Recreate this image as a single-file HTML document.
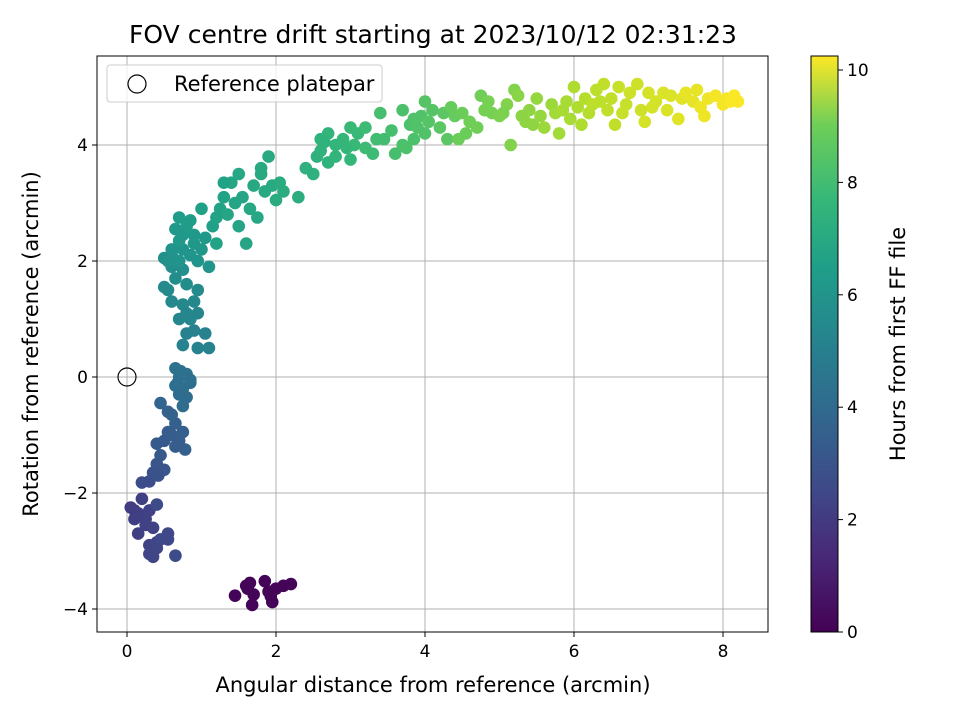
<!DOCTYPE html>
<html><head><meta charset="utf-8"><style>
body{margin:0;background:#fff;}
svg text{font-family:"DejaVu Sans","Liberation Sans",sans-serif;fill:#000;}
</style></head><body>
<svg id="chart" width="960" height="720" xmlns="http://www.w3.org/2000/svg">
<defs><linearGradient id="vir" x1="0" y1="1" x2="0" y2="0">
<stop offset="0" stop-color="#440154"/><stop offset="0.13" stop-color="#482878"/><stop offset="0.25" stop-color="#3e4a89"/><stop offset="0.38" stop-color="#31688e"/><stop offset="0.5" stop-color="#26828e"/><stop offset="0.63" stop-color="#1f9e89"/><stop offset="0.75" stop-color="#35b779"/><stop offset="0.88" stop-color="#6ece58"/><stop offset="1" stop-color="#fde725"/></linearGradient>
<clipPath id="pc"><rect x="97" y="56" width="671" height="576"/></clipPath></defs>
<rect x="0" y="0" width="960" height="720" fill="#fff"/>
<g id="grid"></g>
<g id="points" clip-path="url(#pc)"></g>
<rect x="97" y="56" width="671" height="576" fill="none" stroke="#000" stroke-width="1"/>
<g id="ticks"></g>
<text x="433" y="43" font-size="25" text-anchor="middle">FOV centre drift starting at 2023/10/12 02:31:23</text>
<text x="433" y="692" font-size="21" text-anchor="middle">Angular distance from reference (arcmin)</text>
<text x="38" y="344" font-size="21" text-anchor="middle" transform="rotate(-90 38 344)">Rotation from reference (arcmin)</text>
<g>
<rect x="107" y="65" width="275" height="37" rx="3" fill="#fff" fill-opacity="0.8" stroke="#ccc"/>
<circle cx="137" cy="84" r="9" fill="none" stroke="#000" stroke-width="1.2"/>
<text x="174" y="91" font-size="21">Reference platepar</text>
</g>
<rect x="811" y="56" width="27" height="576" fill="url(#vir)" stroke="#000" stroke-width="1"/>
<g id="cbticks"></g>
<text x="905" y="344" font-size="21" text-anchor="middle" transform="rotate(-90 905 344)">Hours from first FF file</text>
</svg>
<script>
const xTicks=[0,2,4,6,8];
const yTicks=[-4,-2,0,2,4];
const cbTicks=[0,2,4,6,8,10];
const xVals=[
1.45,1.6,1.65,1.7,1.68,1.85,1.9,1.95,2.0,2.1,2.2,1.62,1.93,
0.05,0.1,0.15,0.2,0.25,0.3,0.35,0.3,0.3,0.35,0.4,0.4,0.45,0.55,0.55,0.65,0.2,0.3,0.4,0.15,0.25,0.1,
0.35,0.4,0.45,0.4,0.5,0.55,0.6,0.65,0.7,0.75,0.78,0.65,0.45,0.55,0.6,0.5,0.42,
0.65,0.7,0.65,0.75,0.8,0.85,0.7,0.8,0.75,0.85,0.68,0.72,
0.75,0.8,0.9,0.95,1.05,1.1,0.85,0.95,0.7,0.6,0.55,0.75,0.9,0.95,0.5,0.65,0.8,0.75,0.6,0.5,0.85,0.8,
0.55,0.6,0.7,0.75,0.85,0.9,1.0,1.1,0.95,0.7,0.65,0.75,0.8,0.9,0.7,0.85,1.05,0.6,
1.0,1.15,1.2,1.25,1.3,1.35,1.4,1.45,1.5,1.55,1.6,1.65,1.7,1.75,1.8,1.85,1.9,1.95,2.0,2.05,2.1,1.5,1.3,1.2,1.8,2.3,
2.4,2.5,2.55,2.6,2.6,2.7,2.7,2.8,2.8,2.9,3.0,3.0,3.05,3.1,3.2,3.3,3.35,3.2,2.65,2.95,
3.45,3.55,3.6,3.7,3.7,3.8,3.85,3.9,3.95,4.0,4.0,4.05,4.1,4.2,4.25,3.4,3.75,4.3,3.85,
4.35,4.4,4.5,4.55,4.6,4.7,4.75,4.8,4.9,5.0,5.1,5.15,5.2,5.25,5.3,5.35,5.4,5.45,4.45,4.85,5.05,
5.5,5.55,5.6,5.7,5.75,5.8,5.9,5.95,6.0,6.05,6.1,6.15,6.2,6.3,6.35,6.4,6.45,5.85,6.25,
6.5,6.55,6.6,6.7,6.75,6.85,6.9,6.95,7.0,7.1,7.2,7.25,7.3,7.4,7.45,7.5,7.6,7.65,7.7,7.75,7.8,7.9,8.0,8.05,8.1,8.2,8.15,6.65,7.05];
const yVals=[
-3.77,-3.6,-3.55,-3.75,-3.93,-3.52,-3.7,-3.88,-3.65,-3.6,-3.57,-3.65,-3.78,
-2.25,-2.3,-2.7,-2.1,-2.45,-2.3,-2.6,-2.9,-3.05,-3.1,-2.85,-2.95,-2.8,-2.7,-2.8,-3.08,-1.82,-1.8,-2.2,-2.35,-2.55,-2.45,
-1.65,-1.5,-1.35,-1.15,-1.1,-0.95,-1.0,-0.8,-1.1,-0.95,-1.25,-1.2,-0.45,-0.6,-0.65,-1.6,-1.7,
0.15,0.0,-0.15,-0.2,0.05,-0.1,-0.3,-0.35,-0.5,-0.05,-0.1,0.1,
0.55,0.75,0.8,0.5,0.75,0.5,1.0,1.1,1.0,1.3,1.5,1.25,1.3,1.5,1.55,1.7,1.6,1.85,1.9,2.05,1.0,1.1,
2.0,2.1,2.0,2.2,2.1,2.3,2.2,1.9,2.0,2.35,2.55,2.45,2.6,2.45,2.75,2.7,2.4,2.2,
2.9,2.6,2.3,2.9,3.1,2.8,3.35,3.0,2.6,3.1,2.3,2.9,3.3,2.75,3.5,3.2,3.8,3.3,3.05,3.35,3.2,3.5,3.35,2.75,3.6,3.1,
3.6,3.5,3.8,3.9,4.1,3.7,4.2,4.0,3.8,4.1,3.75,4.3,4.0,4.2,3.95,3.85,4.1,4.3,4.05,3.95,
4.1,4.25,3.85,4.0,4.6,4.35,4.1,4.3,4.5,4.2,4.75,4.4,4.6,4.3,4.55,4.55,3.95,4.1,4.45,
4.65,4.5,4.55,4.2,4.4,4.3,4.85,4.6,4.55,4.5,4.7,4.0,4.95,4.85,4.5,4.4,4.6,4.35,4.1,4.75,4.55,
4.8,4.5,4.3,4.7,4.55,4.2,4.75,4.45,5.0,4.65,4.35,4.8,4.55,4.95,4.75,5.05,4.6,4.6,4.7,
4.8,4.35,5.0,4.7,4.9,5.05,4.6,4.4,4.9,4.75,4.9,4.6,4.85,4.45,4.8,4.9,4.75,4.95,4.65,4.5,4.8,4.85,4.7,4.8,4.75,4.75,4.85,4.55,4.65];
const hourVals=[
0.1,0.1,0.1,0.1,0.1,0.1,0.1,0.1,0.1,0.1,0.1,0.1,0.1,
1.8,1.8,1.9,1.9,2.0,2.0,2.0,2.0,2.1,2.1,2.1,2.1,2.2,2.2,2.2,2.3,2.4,2.4,2.3,1.9,2.0,1.9,
2.6,2.7,2.8,2.9,2.9,3.0,3.0,3.1,3.0,3.1,3.1,3.0,3.3,3.2,3.2,2.7,2.6,
3.8,3.8,3.7,3.7,3.8,3.7,3.6,3.6,3.6,3.7,3.7,3.8,
4.5,4.5,4.5,4.6,4.6,4.6,4.7,4.7,4.7,4.8,4.9,4.8,4.8,4.9,4.9,5.0,5.0,5.1,5.1,5.1,4.7,4.7,
5.2,5.2,5.3,5.3,5.3,5.4,5.4,5.3,5.3,5.5,5.5,5.5,5.6,5.5,5.6,5.6,5.5,5.3,
5.8,5.8,5.9,5.9,5.9,6.0,6.0,6.0,6.0,6.0,6.0,6.1,6.1,6.1,6.2,6.2,6.2,6.2,6.3,6.3,6.3,6.1,5.9,5.9,6.2,6.4,
6.5,6.5,6.5,6.6,6.6,6.6,6.7,6.7,6.7,6.8,6.8,6.9,6.9,6.9,7.0,7.0,7.1,7.0,6.6,6.8,
7.1,7.2,7.2,7.3,7.3,7.3,7.3,7.4,7.4,7.4,7.5,7.5,7.5,7.6,7.6,7.2,7.3,7.6,7.4,
7.8,7.8,7.9,7.9,8.0,8.0,8.0,8.1,8.1,8.2,8.3,8.3,8.3,8.4,8.4,8.5,8.5,8.5,7.9,8.1,8.2,
8.6,8.6,8.7,8.7,8.8,8.8,8.9,8.9,9.0,9.0,9.0,9.1,9.1,9.2,9.2,9.3,9.3,8.9,9.2,
9.3,9.3,9.4,9.4,9.5,9.5,9.5,9.6,9.6,9.6,9.7,9.7,9.7,9.8,9.8,9.9,9.9,9.9,10.0,10.0,10.0,10.1,10.1,10.1,10.2,10.2,10.2,9.4,9.6];
const NS="http://www.w3.org/2000/svg";
const X0=97,X1=768,Y0=56,Y1=632;
const xs=v=>127+v*74.5;
const ys=v=>377-v*58;
const cs=v=>632-v*56.2;
const vir=[[68,1,84],[72,40,120],[62,74,137],[49,104,142],[38,130,142],[31,158,137],[53,183,121],[110,206,88],[181,222,43],[253,231,37]];
function color(h){let t=Math.max(0,Math.min(1,h/10.25))*(vir.length-1);let i=Math.min(vir.length-2,Math.floor(t));let f=t-i;
return 'rgb('+vir[i].map((c,k)=>Math.round(c+(vir[i+1][k]-c)*f)).join(',')+')';}
function mk(tag,attrs,parent){const e=document.createElementNS(NS,tag);for(const k in attrs)e.setAttribute(k,attrs[k]);parent.appendChild(e);return e;}
const grid=document.getElementById('grid'),ticks=document.getElementById('ticks');
xTicks.forEach(v=>{const x=xs(v);
const g=mk('line',{x1:x,x2:x,y1:Y0,y2:Y1,stroke:'#b0b0b0','stroke-width':1},grid);

mk('line',{x1:x,x2:x,y1:Y1,y2:Y1+5,stroke:'#000'},ticks);
const t=mk('text',{x:x,y:Y1+25,'font-size':17,'text-anchor':'middle'},ticks);t.textContent=v;
});
yTicks.forEach(v=>{const y=ys(v);
const g=mk('line',{x1:X0,x2:X1,y1:y,y2:y,stroke:'#b0b0b0','stroke-width':1},grid);

mk('line',{x1:X0-5,x2:X0,y1:y,y2:y,stroke:'#000'},ticks);
const t=mk('text',{x:X0-9,y:y+6,'font-size':17,'text-anchor':'end'},ticks);t.textContent=v<0?'\u2212'+(-v):v;
});
const cbt=document.getElementById('cbticks');
cbTicks.forEach(v=>{const y=cs(v);
mk('line',{x1:838,x2:843,y1:y,y2:y,stroke:'#000'},cbt);
const t=mk('text',{x:847,y:y+6,'font-size':17},cbt);t.textContent=v;
});
const pts=document.getElementById('points');
for(let i=0;i<xVals.length;i++){
const c=mk('circle',{cx:xs(xVals[i]),cy:ys(yVals[i]),r:6.3,fill:color(hourVals[i])},pts);

}
const ref=mk('circle',{cx:xs(0),cy:ys(0),r:9,fill:'none',stroke:'#000','stroke-width':1.2},pts);


</script>
</body></html>
